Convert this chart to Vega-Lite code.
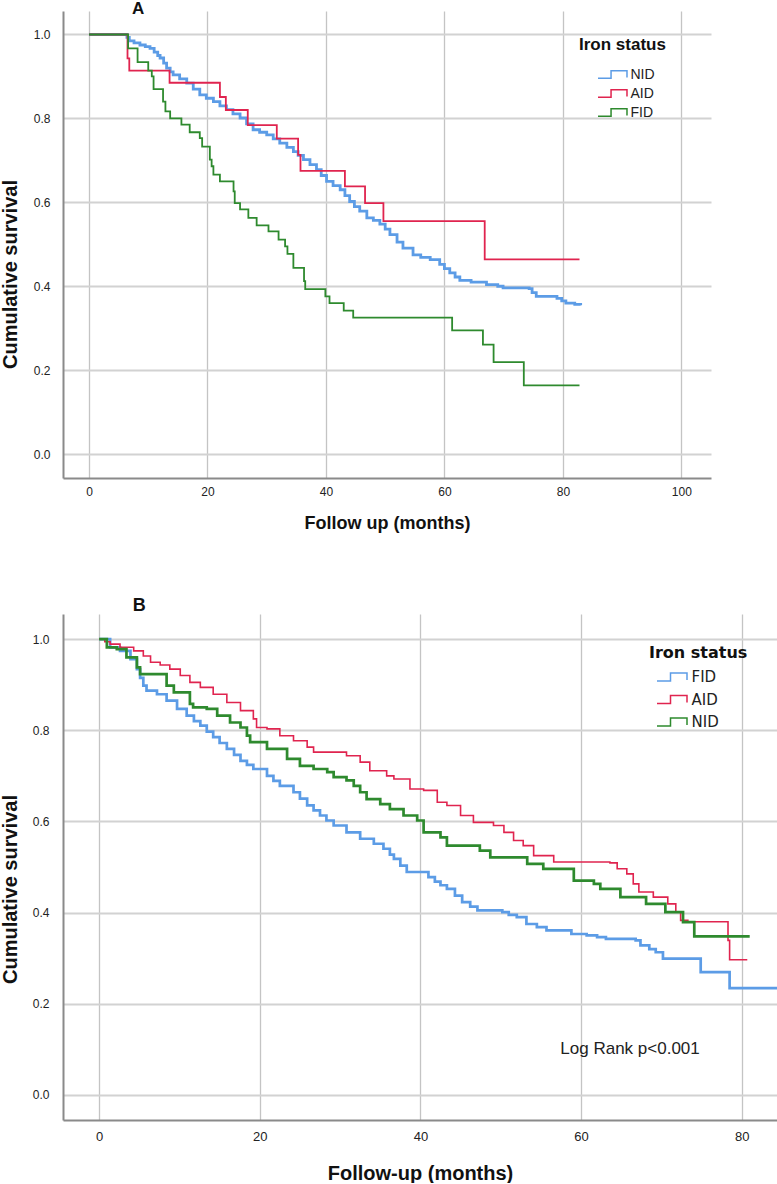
{
"$schema": "https://vega.github.io/schema/vega-lite/v6.json",
"padding": 0,
"background": "white",
"config": {"font": "Liberation Sans", "view": {"stroke": null}},
"datasets": {
"A": [
{"g":"NID","t":0,"s":1},{"g":"NID","t":6.4,"s":0.993},{"g":"NID","t":6.8,"s":0.985},{"g":"NID","t":7.6,"s":0.98},{"g":"NID","t":8.6,"s":0.975},{"g":"NID","t":9.5,"s":0.971},{"g":"NID","t":10.3,"s":0.967},{"g":"NID","t":11.0,"s":0.958},{"g":"NID","t":11.6,"s":0.95},{"g":"NID","t":12.0,"s":0.944},{"g":"NID","t":12.6,"s":0.932},{"g":"NID","t":13.1,"s":0.92},{"g":"NID","t":13.7,"s":0.911},{"g":"NID","t":14.2,"s":0.904},{"g":"NID","t":15.3,"s":0.894},{"g":"NID","t":16.5,"s":0.884},{"g":"NID","t":17.6,"s":0.87},{"g":"NID","t":18.7,"s":0.856},{"g":"NID","t":19.8,"s":0.848},{"g":"NID","t":21.0,"s":0.84},{"g":"NID","t":22.1,"s":0.83},{"g":"NID","t":23.2,"s":0.821},{"g":"NID","t":24.3,"s":0.811},{"g":"NID","t":25.5,"s":0.801},{"g":"NID","t":26.6,"s":0.787},{"g":"NID","t":27.7,"s":0.773},{"g":"NID","t":28.8,"s":0.767},{"g":"NID","t":30.0,"s":0.761},{"g":"NID","t":31.1,"s":0.751},{"g":"NID","t":32.2,"s":0.741},{"g":"NID","t":33.4,"s":0.731},{"g":"NID","t":34.5,"s":0.721},{"g":"NID","t":35.3,"s":0.712},{"g":"NID","t":36.2,"s":0.702},{"g":"NID","t":37.3,"s":0.69},{"g":"NID","t":38.4,"s":0.678},{"g":"NID","t":39.2,"s":0.664},{"g":"NID","t":40.1,"s":0.65},{"g":"NID","t":41.2,"s":0.64},{"g":"NID","t":42.4,"s":0.63},{"g":"NID","t":43.2,"s":0.616},{"g":"NID","t":44.0,"s":0.602},{"g":"NID","t":44.8,"s":0.59},{"g":"NID","t":45.7,"s":0.579},{"g":"NID","t":46.9,"s":0.563},{"g":"NID","t":48.0,"s":0.557},{"g":"NID","t":49.1,"s":0.548},{"g":"NID","t":50.0,"s":0.536},{"g":"NID","t":50.8,"s":0.523},{"g":"NID","t":52.0,"s":0.505},{"g":"NID","t":53.0,"s":0.491},{"g":"NID","t":54.7,"s":0.475},{"g":"NID","t":56.0,"s":0.469},{"g":"NID","t":57.6,"s":0.4635},{"g":"NID","t":59.2,"s":0.452},{"g":"NID","t":60.0,"s":0.442},{"g":"NID","t":60.9,"s":0.432},{"g":"NID","t":61.8,"s":0.422},{"g":"NID","t":62.6,"s":0.414},{"g":"NID","t":64.5,"s":0.41},{"g":"NID","t":67.1,"s":0.404},{"g":"NID","t":69.0,"s":0.4},{"g":"NID","t":69.9,"s":0.396},{"g":"NID","t":74.3,"s":0.3945},{"g":"NID","t":74.8,"s":0.385},{"g":"NID","t":75.5,"s":0.376},{"g":"NID","t":79.0,"s":0.371},{"g":"NID","t":79.8,"s":0.365},{"g":"NID","t":80.5,"s":0.36},{"g":"NID","t":82.0,"s":0.357},{"g":"NID","t":83.0,"s":0.355},
{"g":"AID","t":0,"s":1},{"g":"AID","t":6.5,"s":0.943},{"g":"AID","t":6.8,"s":0.914},{"g":"AID","t":13.6,"s":0.885},{"g":"AID","t":22.1,"s":0.851},{"g":"AID","t":23.1,"s":0.82},{"g":"AID","t":26.8,"s":0.784},{"g":"AID","t":31.7,"s":0.752},{"g":"AID","t":35.3,"s":0.713},{"g":"AID","t":35.7,"s":0.675},{"g":"AID","t":43.2,"s":0.638},{"g":"AID","t":46.6,"s":0.598},{"g":"AID","t":49.7,"s":0.555},{"g":"AID","t":66.8,"s":0.464},{"g":"AID","t":82.8,"s":0.464},
{"g":"FID","t":0,"s":1},{"g":"FID","t":6.6,"s":0.967},{"g":"FID","t":8.2,"s":0.934},{"g":"FID","t":10.0,"s":0.914},{"g":"FID","t":10.6,"s":0.9},{"g":"FID","t":10.9,"s":0.87},{"g":"FID","t":12.5,"s":0.84},{"g":"FID","t":12.9,"s":0.817},{"g":"FID","t":13.7,"s":0.8},{"g":"FID","t":15.6,"s":0.785},{"g":"FID","t":17.0,"s":0.767},{"g":"FID","t":18.7,"s":0.753},{"g":"FID","t":19.1,"s":0.733},{"g":"FID","t":20.4,"s":0.702},{"g":"FID","t":20.7,"s":0.686},{"g":"FID","t":21.0,"s":0.666},{"g":"FID","t":22.1,"s":0.65},{"g":"FID","t":24.4,"s":0.626},{"g":"FID","t":24.6,"s":0.598},{"g":"FID","t":25.5,"s":0.583},{"g":"FID","t":26.9,"s":0.563},{"g":"FID","t":28.3,"s":0.545},{"g":"FID","t":30.3,"s":0.531},{"g":"FID","t":32.0,"s":0.511},{"g":"FID","t":33.1,"s":0.495},{"g":"FID","t":33.5,"s":0.477},{"g":"FID","t":34.5,"s":0.444},{"g":"FID","t":36.3,"s":0.412},{"g":"FID","t":36.5,"s":0.393},{"g":"FID","t":39.9,"s":0.376},{"g":"FID","t":40.6,"s":0.36},{"g":"FID","t":43.0,"s":0.342},{"g":"FID","t":44.6,"s":0.325},{"g":"FID","t":61.3,"s":0.295},{"g":"FID","t":66.5,"s":0.261},{"g":"FID","t":68.3,"s":0.219},{"g":"FID","t":73.4,"s":0.1636},{"g":"FID","t":82.8,"s":0.1636}
],
"B": [
{"g":"FID","t":0,"s":1},{"g":"FID","t":1.37,"s":0.982},{"g":"FID","t":2.6,"s":0.974},{"g":"FID","t":3.9,"s":0.956},{"g":"FID","t":4.7,"s":0.934},{"g":"FID","t":5.1,"s":0.915},{"g":"FID","t":5.5,"s":0.898},{"g":"FID","t":5.9,"s":0.887},{"g":"FID","t":7.2,"s":0.879},{"g":"FID","t":8.4,"s":0.865},{"g":"FID","t":9.7,"s":0.847},{"g":"FID","t":10.9,"s":0.832},{"g":"FID","t":11.8,"s":0.82},{"g":"FID","t":12.6,"s":0.81},{"g":"FID","t":13.4,"s":0.797},{"g":"FID","t":14.2,"s":0.785},{"g":"FID","t":15.0,"s":0.772},{"g":"FID","t":15.9,"s":0.759},{"g":"FID","t":16.8,"s":0.746},{"g":"FID","t":17.6,"s":0.733},{"g":"FID","t":18.4,"s":0.724},{"g":"FID","t":19.2,"s":0.715},{"g":"FID","t":20.9,"s":0.7},{"g":"FID","t":21.7,"s":0.689},{"g":"FID","t":22.5,"s":0.678},{"g":"FID","t":24.2,"s":0.664},{"g":"FID","t":25.0,"s":0.65},{"g":"FID","t":25.9,"s":0.635},{"g":"FID","t":26.7,"s":0.624},{"g":"FID","t":27.5,"s":0.613},{"g":"FID","t":28.3,"s":0.602},{"g":"FID","t":29.2,"s":0.591},{"g":"FID","t":30.8,"s":0.576},{"g":"FID","t":32.5,"s":0.562},{"g":"FID","t":34.2,"s":0.551},{"g":"FID","t":35.4,"s":0.54},{"g":"FID","t":36.2,"s":0.527},{"g":"FID","t":36.7,"s":0.518},{"g":"FID","t":37.5,"s":0.503},{"g":"FID","t":38.3,"s":0.489},{"g":"FID","t":41.0,"s":0.478},{"g":"FID","t":41.8,"s":0.468},{"g":"FID","t":42.5,"s":0.46},{"g":"FID","t":43.3,"s":0.452},{"g":"FID","t":44.3,"s":0.437},{"g":"FID","t":45.2,"s":0.423},{"g":"FID","t":46.2,"s":0.413},{"g":"FID","t":47.1,"s":0.405},{"g":"FID","t":50.2,"s":0.401},{"g":"FID","t":51.0,"s":0.395},{"g":"FID","t":52.0,"s":0.39},{"g":"FID","t":53.2,"s":0.375},{"g":"FID","t":54.5,"s":0.368},{"g":"FID","t":55.7,"s":0.361},{"g":"FID","t":58.8,"s":0.353},{"g":"FID","t":60.7,"s":0.35},{"g":"FID","t":62.0,"s":0.346},{"g":"FID","t":63.1,"s":0.3425},{"g":"FID","t":66.8,"s":0.339},{"g":"FID","t":67.4,"s":0.328},{"g":"FID","t":68.5,"s":0.32},{"g":"FID","t":69.3,"s":0.313},{"g":"FID","t":70.2,"s":0.299},{"g":"FID","t":74.9,"s":0.2696},{"g":"FID","t":78.5,"s":0.2345},{"g":"FID","t":84.4,"s":0.2345},
{"g":"AID","t":0,"s":1},{"g":"AID","t":0.7,"s":0.994},{"g":"AID","t":1.37,"s":0.989},{"g":"AID","t":2.6,"s":0.982},{"g":"AID","t":4.3,"s":0.974},{"g":"AID","t":5.5,"s":0.963},{"g":"AID","t":6.4,"s":0.949},{"g":"AID","t":7.6,"s":0.943},{"g":"AID","t":8.8,"s":0.934},{"g":"AID","t":10.1,"s":0.92},{"g":"AID","t":11.3,"s":0.905},{"g":"AID","t":12.6,"s":0.894},{"g":"AID","t":14.2,"s":0.879},{"g":"AID","t":15.9,"s":0.861},{"g":"AID","t":17.6,"s":0.843},{"g":"AID","t":19.2,"s":0.825},{"g":"AID","t":19.6,"s":0.806},{"g":"AID","t":20.9,"s":0.803},{"g":"AID","t":22.5,"s":0.788},{"g":"AID","t":24.2,"s":0.777},{"g":"AID","t":25.9,"s":0.763},{"g":"AID","t":26.7,"s":0.752},{"g":"AID","t":30.8,"s":0.744},{"g":"AID","t":32.5,"s":0.73},{"g":"AID","t":33.7,"s":0.711},{"g":"AID","t":35.8,"s":0.7},{"g":"AID","t":36.7,"s":0.693},{"g":"AID","t":38.7,"s":0.671},{"g":"AID","t":40.4,"s":0.668},{"g":"AID","t":42.1,"s":0.642},{"g":"AID","t":43.3,"s":0.635},{"g":"AID","t":45.0,"s":0.613},{"g":"AID","t":46.6,"s":0.598},{"g":"AID","t":49.1,"s":0.591},{"g":"AID","t":50.4,"s":0.576},{"g":"AID","t":51.6,"s":0.558},{"g":"AID","t":52.8,"s":0.547},{"g":"AID","t":54.1,"s":0.525},{"g":"AID","t":56.6,"s":0.511},{"g":"AID","t":63.6,"s":0.509},{"g":"AID","t":64.5,"s":0.496},{"g":"AID","t":65.7,"s":0.485},{"g":"AID","t":66.5,"s":0.463},{"g":"AID","t":67.2,"s":0.445},{"g":"AID","t":69.0,"s":0.434},{"g":"AID","t":70.8,"s":0.419},{"g":"AID","t":71.8,"s":0.401},{"g":"AID","t":72.4,"s":0.383},{"g":"AID","t":73.3,"s":0.38},{"g":"AID","t":78.3,"s":0.339},{"g":"AID","t":78.5,"s":0.2965},{"g":"AID","t":80.7,"s":0.2965},
{"g":"NID","t":0,"s":1},{"g":"NID","t":0.96,"s":0.982},{"g":"NID","t":2.2,"s":0.978},{"g":"NID","t":3.4,"s":0.96},{"g":"NID","t":4.7,"s":0.938},{"g":"NID","t":5.1,"s":0.923},{"g":"NID","t":8.4,"s":0.898},{"g":"NID","t":9.3,"s":0.883},{"g":"NID","t":11.3,"s":0.858},{"g":"NID","t":11.7,"s":0.85},{"g":"NID","t":13.4,"s":0.847},{"g":"NID","t":14.7,"s":0.832},{"g":"NID","t":16.3,"s":0.817},{"g":"NID","t":17.6,"s":0.806},{"g":"NID","t":18.4,"s":0.788},{"g":"NID","t":18.8,"s":0.774},{"g":"NID","t":20.9,"s":0.759},{"g":"NID","t":23.4,"s":0.737},{"g":"NID","t":25.0,"s":0.722},{"g":"NID","t":26.7,"s":0.715},{"g":"NID","t":28.4,"s":0.708},{"g":"NID","t":29.2,"s":0.697},{"g":"NID","t":30.8,"s":0.69},{"g":"NID","t":31.7,"s":0.678},{"g":"NID","t":32.5,"s":0.664},{"g":"NID","t":33.3,"s":0.649},{"g":"NID","t":35.0,"s":0.638},{"g":"NID","t":36.2,"s":0.627},{"g":"NID","t":37.9,"s":0.613},{"g":"NID","t":39.6,"s":0.602},{"g":"NID","t":40.4,"s":0.576},{"g":"NID","t":42.5,"s":0.565},{"g":"NID","t":43.3,"s":0.547},{"g":"NID","t":47.4,"s":0.536},{"g":"NID","t":48.7,"s":0.521},{"g":"NID","t":53.3,"s":0.507},{"g":"NID","t":55.3,"s":0.496},{"g":"NID","t":59.1,"s":0.47},{"g":"NID","t":61.6,"s":0.463},{"g":"NID","t":62.4,"s":0.452},{"g":"NID","t":64.9,"s":0.434},{"g":"NID","t":68.1,"s":0.419},{"g":"NID","t":70.5,"s":0.401},{"g":"NID","t":72.7,"s":0.379},{"g":"NID","t":74.1,"s":0.3476},{"g":"NID","t":81.0,"s":0.3476}
]
},
"vconcat": [
{
"width": 648, "height": 467,
"layer": [
{
"data": {"name": "A"},
"mark": {"type": "line", "interpolate": "step-after", "clip": true},
"encoding": {
"x": {"field": "t", "type": "quantitative", "scale": {"domain": [-4.39, 105], "nice": false, "zero": false},
 "axis": {"values": [0,20,40,60,80,100], "title": "Follow up (months)", "grid": true, "gridColor": "#c4c4c4", "gridWidth": 1.3, "domainColor": "#8a8a8a", "domainWidth": 2, "ticks": false, "tickSize": 0, "labelPadding": 8, "labelFontSize": 12, "labelColor": "#222", "titleFontSize": 18, "titleFontWeight": "bold", "titleColor": "#111", "titlePadding": 17}},
"y": {"field": "s", "type": "quantitative", "scale": {"domain": [-0.057, 1.056], "nice": false, "zero": false},
 "axis": {"values": [0,0.2,0.4,0.6,0.8,1], "format": ".1f", "title": "Cumulative survival", "grid": true, "gridColor": "#d2d2d2", "gridWidth": 2, "domainColor": "#8a8a8a", "domainWidth": 2, "ticks": false, "tickSize": 0, "labelPadding": 13, "labelFontSize": 12, "labelColor": "#222", "titleFontSize": 20, "titleFontWeight": "bold", "titleColor": "#111", "titlePadding": 12.5, "titleY": 263}},
"color": {"field": "g", "type": "nominal", "scale": {"domain": ["NID","AID","FID"], "range": ["#5c9ce6","#e0244f","#2e8a2e"]},
 "legend": {"orient": "none", "legendX": 516, "legendY": 26, "title": "Iron status", "titleFontSize": 17, "titleFontWeight": "bold", "titleColor": "#111", "titlePadding": 12.5, "labelFontSize": 14, "labelColor": "#222", "symbolType": "M-2,0.53H-0.2V-0.53H2V0.4", "symbolSize": 210, "symbolStrokeWidth": 1.5, "symbolFillColor": "transparent", "symbolOffset": 25.5, "labelOffset": 10, "rowPadding": 4}},
"strokeWidth": {"condition": {"test": "datum.g === 'NID'", "value": 2.8}, "value": 1.8}
}
},
{
"data": {"values": [{}]},
"mark": {"type": "text", "text": "A", "fontSize": 17, "fontWeight": "bold", "color": "#111", "align": "center", "baseline": "alphabetic"},
"encoding": {"x": {"datum": 8.3, "type": "quantitative"}, "y": {"datum": 1.048, "type": "quantitative"}}
}
]
},
{
"width": 714, "height": 506,
"layer": [
{
"data": {"name": "B"},
"mark": {"type": "line", "interpolate": "step-after", "clip": true},
"encoding": {
"x": {"field": "t", "type": "quantitative", "scale": {"domain": [-4.5, 84.4], "nice": false, "zero": false},
 "axis": {"values": [0,20,40,60,80], "title": "Follow-up (months)", "grid": true, "gridColor": "#c4c4c4", "gridWidth": 1.3, "domainColor": "#8a8a8a", "domainWidth": 2, "ticks": false, "tickSize": 0, "labelPadding": 10, "labelFontSize": 13, "labelColor": "#222", "titleFontSize": 20, "titleFontWeight": "bold", "titleColor": "#111", "titlePadding": 20}},
"y": {"field": "s", "type": "quantitative", "scale": {"domain": [-0.055, 1.055], "nice": false, "zero": false},
 "axis": {"values": [0,0.2,0.4,0.6,0.8,1], "format": ".1f", "title": "Cumulative survival", "grid": true, "gridColor": "#d2d2d2", "gridWidth": 2, "domainColor": "#8a8a8a", "domainWidth": 2, "ticks": false, "tickSize": 0, "labelPadding": 14, "labelFontSize": 12, "labelColor": "#222", "titleFontSize": 20, "titleFontWeight": "bold", "titleColor": "#111", "titlePadding": 12, "titleY": 275}},
"color": {"field": "g", "type": "nominal", "scale": {"domain": ["FID","AID","NID"], "range": ["#5c9ce6","#e0244f","#2e8a2e"]},
 "legend": {"orient": "none", "legendX": 586, "legendY": 31, "title": "Iron status", "titleFont": "DejaVu Sans", "titleFontSize": 16, "titleFontWeight": "bold", "titleColor": "#111", "titlePadding": 7.5, "labelFont": "DejaVu Sans", "labelFontSize": 15, "labelColor": "#222", "symbolType": "M-2,0.53H-0.2V-0.53H2V0.4", "symbolSize": 225, "symbolStrokeWidth": 1.5, "symbolFillColor": "transparent", "symbolOffset": 14.5, "labelOffset": 11, "rowPadding": 5.5}},
"strokeWidth": {"condition": {"test": "datum.g === 'AID'", "value": 1.6}, "value": 2.7}
}
},
{
"data": {"values": [{}]},
"mark": {"type": "text", "text": "B", "fontSize": 18, "fontWeight": "bold", "color": "#111", "align": "center", "baseline": "alphabetic"},
"encoding": {"x": {"datum": 5.0, "type": "quantitative"}, "y": {"datum": 1.061, "type": "quantitative"}}
},
{
"data": {"values": [{}]},
"mark": {"type": "text", "text": "Log Rank p<0.001", "fontSize": 17, "color": "#222", "align": "center", "baseline": "middle"},
"encoding": {"x": {"datum": 66.1, "type": "quantitative"}, "y": {"datum": 0.101, "type": "quantitative"}}
}
]
}
],
"spacing": 65,
"resolve": {"scale": {"color": "independent", "x": "independent", "y": "independent"}, "legend": {"color": "independent"}}
}
